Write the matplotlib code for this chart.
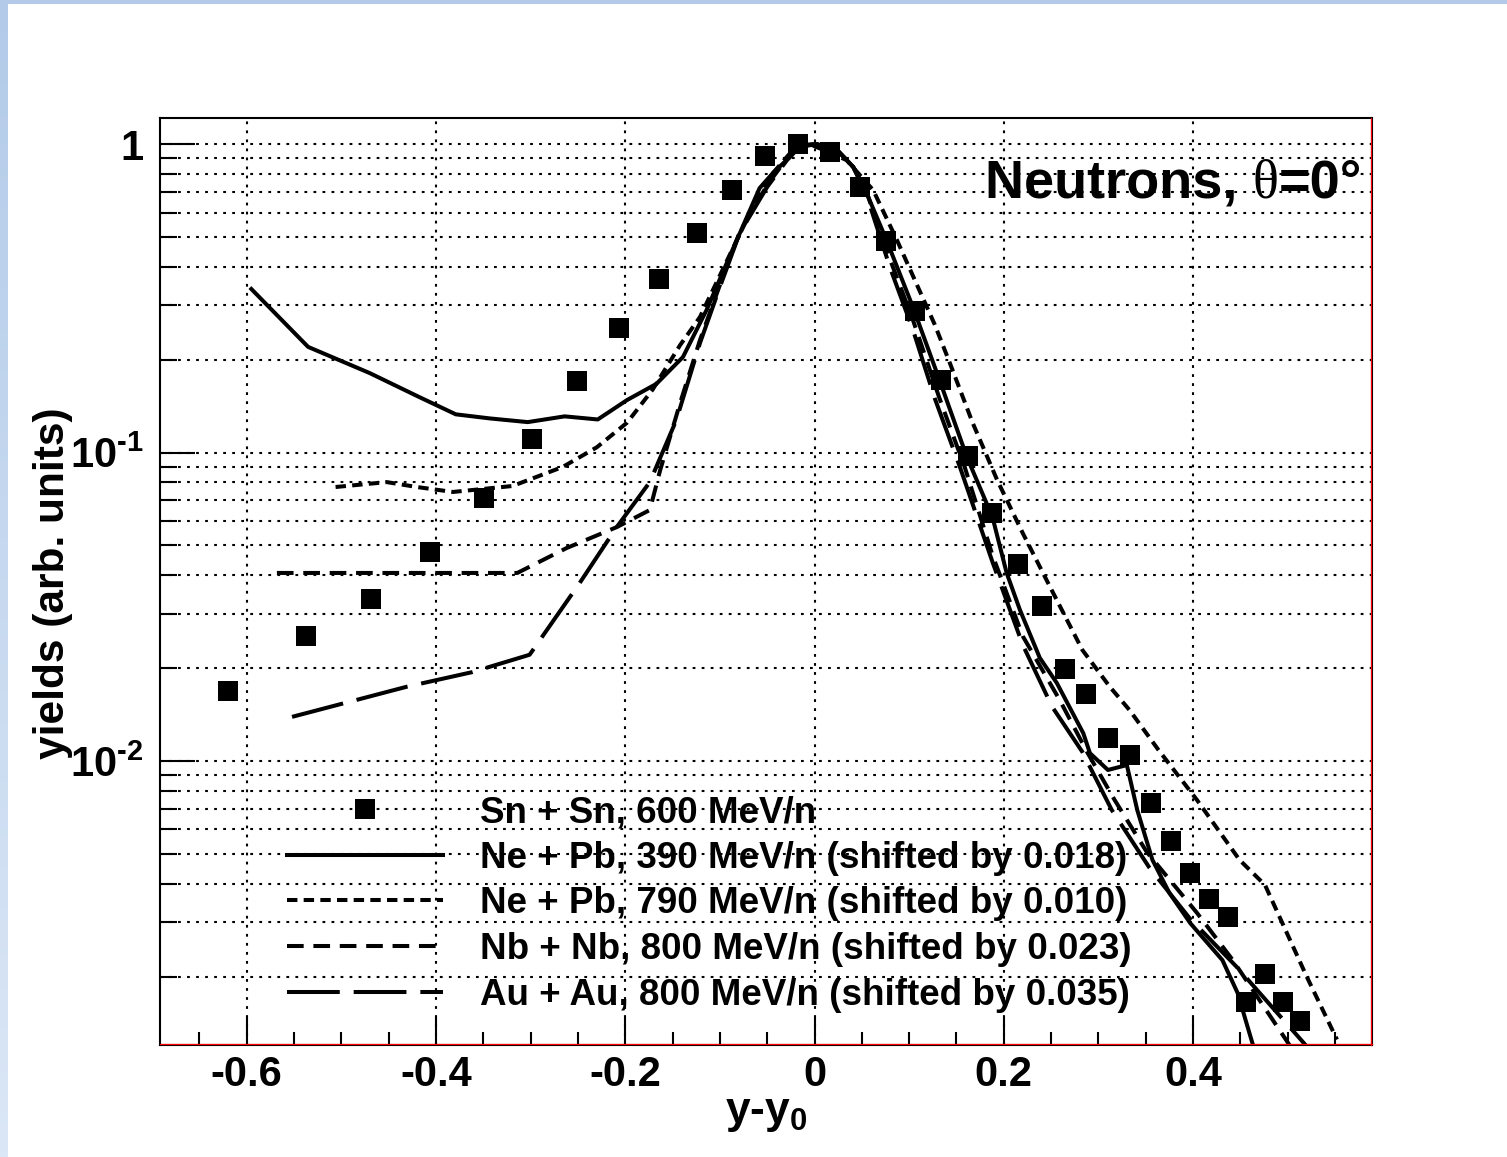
import matplotlib
matplotlib.use('Agg')
import matplotlib.pyplot as plt
import numpy as np
import matplotlib.transforms as mtransforms
from matplotlib.colors import LinearSegmentedColormap
from matplotlib.ticker import FixedLocator, FuncFormatter, MultipleLocator, NullFormatter
from matplotlib.offsetbox import TextArea, HPacker, AnchoredOffsetbox

plt.rcParams['font.family'] = ['Liberation Sans', 'DejaVu Sans']
plt.rcParams['font.weight'] = 'bold'
plt.rcParams['mathtext.fontset'] = 'custom'
plt.rcParams['mathtext.rm'] = 'Liberation Sans:bold'
plt.rcParams['mathtext.bf'] = 'Liberation Sans:bold'
plt.rcParams['mathtext.it'] = 'Liberation Sans:bold:italic'
plt.rcParams['axes.unicode_minus'] = False
plt.rcParams['lines.scale_dashes'] = False

# Sn + Sn, 600 MeV/n measured neutron yields
sn_x = [-0.620, -0.537, -0.469, -0.406, -0.349, -0.298, -0.251, -0.207, -0.164, -0.124,
        -0.087, -0.052, -0.017, 0.016, 0.048, 0.076, 0.106, 0.134, 0.162, 0.188,
        0.215, 0.240, 0.265, 0.287, 0.310, 0.333, 0.356, 0.377, 0.397, 0.417,
        0.437, 0.456, 0.476, 0.495, 0.513]
sn_y = [0.0169, 0.0254, 0.0335, 0.0476, 0.0712, 0.111, 0.171, 0.253, 0.365, 0.515,
        0.709, 0.914, 1.0, 0.942, 0.726, 0.485, 0.288, 0.172, 0.0975, 0.0637,
        0.0435, 0.0318, 0.0199, 0.0165, 0.0119, 0.01045, 0.00731, 0.00551, 0.00434, 0.00357,
        0.00312, 0.00166, 0.00204, 0.00166, 0.00144]

# Ne + Pb, 390 MeV/n (shifted by 0.018)
ne390_x = [-0.595, -0.535, -0.470, -0.417, -0.379, -0.343, -0.303, -0.264, -0.229, -0.198,
           -0.167, -0.139, -0.114, -0.090, -0.058, -0.044, -0.024, -0.016, 0.002, 0.024,
           0.041, 0.055, 0.076, 0.104, 0.132, 0.161, 0.188, 0.203, 0.217, 0.238,
           0.256, 0.284, 0.291, 0.310, 0.330, 0.341, 0.357, 0.375, 0.397, 0.431,
           0.447, 0.465]
ne390_y = [0.339, 0.220, 0.181, 0.151, 0.133, 0.129, 0.1255, 0.131, 0.128, 0.148,
           0.167, 0.204, 0.290, 0.430, 0.720, 0.805, 0.921, 0.993, 1.0, 0.956,
           0.842, 0.694, 0.489, 0.296, 0.172, 0.0967, 0.0618, 0.0407, 0.0309, 0.0216,
           0.0179, 0.0123, 0.0106, 0.00935, 0.0097, 0.00693, 0.00478, 0.00373, 0.00298, 0.00226,
           0.00177, 0.00115]

# Ne + Pb, 790 MeV/n (shifted by 0.010)
ne790_x = [-0.506, -0.452, -0.420, -0.382, -0.319, -0.266, -0.230, -0.198, -0.171, -0.142,
           -0.121, -0.082, -0.065, -0.044, -0.023, -0.005, 0.034, 0.062, 0.087, 0.127,
           0.143, 0.167, 0.193, 0.220, 0.249, 0.283, 0.312, 0.333, 0.363, 0.404,
           0.449, 0.476, 0.520, 0.552]
ne790_y = [0.0773, 0.0802, 0.0773, 0.0745, 0.0779, 0.0898, 0.104, 0.125, 0.160, 0.223,
           0.275, 0.489, 0.625, 0.805, 0.956, 1.0, 0.887, 0.709, 0.489, 0.260,
           0.195, 0.125, 0.0814, 0.0548, 0.0366, 0.0229, 0.0174, 0.0146, 0.0109, 0.00748,
           0.00478, 0.00396, 0.0020, 0.00125]

# Nb + Nb, 800 MeV/n (shifted by 0.023)
nb_x = [-0.568, -0.325, -0.314, -0.262, -0.209, -0.174, -0.163, -0.142, -0.121, -0.100,
        -0.079, -0.050, -0.029, -0.016, 0.002, 0.024, 0.041, 0.055, 0.080, 0.104,
        0.132, 0.159, 0.188, 0.220, 0.259, 0.288, 0.317, 0.351, 0.404, 0.442,
        0.505]
nb_y = [0.0407, 0.0407, 0.0407, 0.0490, 0.0573, 0.0651, 0.0878, 0.1447, 0.2316, 0.349,
        0.5185, 0.7364, 0.901, 0.985, 1.0, 0.956, 0.842, 0.699, 0.421, 0.269,
        0.150, 0.0891, 0.0465, 0.0254, 0.01577, 0.01069, 0.00748, 0.00507, 0.00322, 0.00226,
        0.00116]

# Au + Au, 800 MeV/n (shifted by 0.035)
au_x = [-0.552, -0.431, -0.362, -0.301, -0.248, -0.209, -0.174, -0.146, -0.121, -0.100,
        -0.079, -0.050, -0.029, -0.016, 0.002, 0.024, 0.041, 0.055, 0.080, 0.104,
        0.127, 0.154, 0.188, 0.220, 0.251, 0.283, 0.314, 0.354, 0.396, 0.446,
        0.523]
au_y = [0.0139, 0.0174, 0.0194, 0.0221, 0.0378, 0.0573, 0.0802, 0.1274, 0.2265, 0.344,
        0.515, 0.726, 0.888, 0.978, 1.0, 0.956, 0.842, 0.683, 0.396, 0.250,
        0.150, 0.0891, 0.0442, 0.0238, 0.0150, 0.0107, 0.00694, 0.0045, 0.0031, 0.00215,
        0.00116]

W, H = 1507, 1157
fig = plt.figure(figsize=(W / 100, H / 100), dpi=100)
fig.patch.set_facecolor('white')

# light blue canvas edge (top and left)
top_strip = fig.add_axes([0, 1 - 4 / H, 1, 4 / H])
top_strip.add_patch(plt.Rectangle((0, 0), 1, 1, color='#b3cbe9', transform=top_strip.transAxes))
top_strip.set_axis_off()
left_strip = fig.add_axes([0, 0, 8 / W, 1])
grad = np.linspace(0, 1, 256).reshape(-1, 1)
cm = LinearSegmentedColormap.from_list('edge', ['#b3cbe9', '#dbe7f6'])
left_strip.imshow(grad, aspect='auto', cmap=cm, extent=[0, 1, 0, 1], origin='upper')
left_strip.set_axis_off()

ax = fig.add_axes([160 / W, 1 - 1045 / H, 1212 / W, 927 / H])
ax.set_yscale('log')
ax.set_xlim(-0.6915, 0.589)
ax.set_ylim(0.0012, 1.215)

lw = 2.9
ax.plot(ne390_x, ne390_y, color='black', lw=lw, label='Ne + Pb, 390 MeV/n (shifted by 0.018)', zorder=4)
ax.plot(ne790_x, ne790_y, color='black', lw=lw, dashes=(7.5, 4.5), label='Ne + Pb, 790 MeV/n (shifted by 0.010)', zorder=4)
ax.plot(nb_x, nb_y, color='black', lw=lw, dashes=(12, 7), label='Nb + Nb, 800 MeV/n (shifted by 0.023)', zorder=4)
ax.plot(au_x, au_y, color='black', lw=lw, dashes=(38, 10), label='Au + Au, 800 MeV/n (shifted by 0.035)', zorder=4)
ax.plot(sn_x, sn_y, ls='none', marker='s', ms=14.4, mew=0, color='black',
        label='Sn + Sn, 600 MeV/n', zorder=5)

# axes styling
ax.xaxis.set_major_locator(MultipleLocator(0.2))
ax.xaxis.set_minor_locator(MultipleLocator(0.05))
ax.xaxis.set_major_formatter(FuncFormatter(lambda v, p: '0' if abs(v) < 1e-9 else f'{v:.1f}'))
ymaj = [1e-3, 1e-2, 1e-1, 1]
ymin = [m * d for d in [1e-3, 1e-2, 1e-1] for m in range(2, 10)]
ax.yaxis.set_major_locator(FixedLocator(ymaj))
ax.yaxis.set_minor_locator(FixedLocator(ymin))
ylabels = {1e-3: r'$10^{\text{-}3}$', 1e-2: r'$10^{\text{-}2}$', 1e-1: r'$10^{\text{-}1}$', 1: '1'}
ax.yaxis.set_major_formatter(FuncFormatter(lambda v, p: ylabels.get(v, '')))
ax.yaxis.set_minor_formatter(NullFormatter())

ax.tick_params(axis='x', which='major', direction='in', length=20, width=1.5, labelsize=30, pad=7, top=False)
ax.tick_params(axis='x', which='minor', direction='in', length=9.5, width=1.5, top=False)
ax.tick_params(axis='y', which='major', direction='in', length=25, width=1.5, labelsize=30, pad=12, right=False)
ax.tick_params(axis='y', which='minor', direction='in', length=12.5, width=1.5, right=False)

ax.grid(True, which='major', axis='x', color='black', lw=1.5, dashes=(2, 4.5))
ax.grid(True, which='both', axis='y', color='black', lw=1.5, dashes=(2, 4.5))
ax.set_axisbelow(True)

for s in ax.spines.values():
    s.set_linewidth(1.5)
    s.set_color('black')
# thin red inner line along right and bottom frame edges
off_r = mtransforms.offset_copy(ax.transAxes, fig=fig, x=-1.4, y=0, units='dots')
ax.plot([1, 1], [0, 1], transform=off_r, color='red', lw=0.9, clip_on=False, zorder=6)
off_b = mtransforms.offset_copy(ax.transAxes, fig=fig, x=0, y=1.4, units='dots')
ax.plot([0, 1], [0, 0], transform=off_b, color='red', lw=0.9, clip_on=False, zorder=6)

# axis titles
fig.text(53 / W, 1 - 583 / H, 'yields (arb. units)', rotation=90, ha='center', va='center', fontsize=30.5)
fig.text(766 / W, 1 - 1113 / H, r'y-y$_{0}$', ha='center', va='center', fontsize=32)

# legend
handles, labels = ax.get_legend_handles_labels()
order = [4, 0, 1, 2, 3]
leg = ax.legend([handles[i] for i in order], [labels[i] for i in order],
                loc='upper left', bbox_to_anchor=((287 - 160) / 1212, (1045 - 795) / 927),
                frameon=False, fontsize=26.5, handlelength=4.25, handletextpad=1.0,
                borderpad=0, borderaxespad=0, labelspacing=0.29)

# figure label
ta1 = TextArea('Neutrons, ', textprops=dict(fontsize=39, fontweight='bold', family='Liberation Sans'))
ta2 = TextArea('\u03b8', textprops=dict(fontsize=39, fontweight='normal', family='Liberation Serif'))
ta3 = TextArea('=0\u00b0', textprops=dict(fontsize=39, fontweight='bold', family='Liberation Sans'))
box = HPacker(children=[ta1, ta2, ta3], align='baseline', pad=0, sep=0)
anch = AnchoredOffsetbox(loc='upper right', child=box, frameon=False, pad=0, borderpad=0,
                         bbox_to_anchor=((1362 - 160) / 1212, 1 - (158 - 118) / 927),
                         bbox_transform=ax.transAxes)
ax.add_artist(anch)

fig.savefig('out.png', dpi=100)
